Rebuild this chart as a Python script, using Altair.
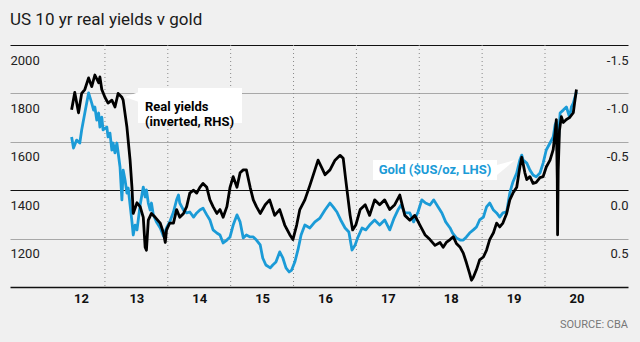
import altair as alt
import pandas as pd

# ---- data ----
gold_year = [2012.47, 2012.50, 2012.55, 2012.60, 2012.63, 2012.68, 2012.74, 2012.79, 2012.82, 2012.84,
             2012.87, 2012.90, 2012.92, 2012.95, 2012.97, 2013.03, 2013.05, 2013.08, 2013.11, 2013.13,
             2013.16, 2013.19, 2013.24, 2013.27, 2013.29, 2013.32, 2013.35, 2013.37, 2013.40, 2013.43,
             2013.45, 2013.48, 2013.51, 2013.56, 2013.61, 2013.64, 2013.66, 2013.69, 2013.72, 2013.74,
             2013.77, 2013.82, 2013.88, 2013.93, 2013.98, 2014.03, 2014.09, 2014.14, 2014.17, 2014.19,
             2014.25, 2014.30, 2014.35, 2014.41, 2014.46, 2014.51, 2014.56, 2014.62, 2014.67, 2014.72,
             2014.78, 2014.83, 2014.88, 2014.94, 2014.99, 2015.04, 2015.10, 2015.15, 2015.20, 2015.25,
             2015.31, 2015.36, 2015.41, 2015.47, 2015.51, 2015.56, 2015.63, 2015.67, 2015.72, 2015.78,
             2015.83, 2015.88, 2015.93, 2015.97, 2016.02, 2016.07, 2016.12, 2016.18, 2016.26, 2016.34,
             2016.42, 2016.50, 2016.58, 2016.63, 2016.69, 2016.75, 2016.82, 2016.88, 2016.93, 2016.98,
             2017.02, 2017.09, 2017.15, 2017.21, 2017.29, 2017.37, 2017.45, 2017.53, 2017.60, 2017.66,
             2017.71, 2017.77, 2017.85, 2017.91, 2017.98, 2018.04, 2018.10, 2018.17, 2018.23, 2018.30,
             2018.36, 2018.42, 2018.49, 2018.53, 2018.59, 2018.65, 2018.70, 2018.75, 2018.80, 2018.86,
             2018.91, 2018.96, 2019.02, 2019.07, 2019.12, 2019.18, 2019.23, 2019.28, 2019.33, 2019.39,
             2019.44, 2019.47, 2019.49, 2019.55, 2019.60, 2019.63, 2019.65, 2019.71, 2019.76, 2019.81,
             2019.86, 2019.92, 2019.97, 2020.02, 2020.08, 2020.13, 2020.16, 2020.18, 2020.21, 2020.24,
             2020.29, 2020.34, 2020.39, 2020.42, 2020.45, 2020.50]
gold_price = [1620, 1574, 1607, 1595, 1649, 1719, 1802, 1760, 1731, 1744,
              1690, 1719, 1661, 1702, 1649, 1661, 1620, 1636, 1566, 1595,
              1554, 1595, 1496, 1360, 1483, 1442, 1388, 1409, 1339, 1269,
              1215, 1256, 1236, 1339, 1413, 1372, 1401, 1347, 1318, 1347,
              1298, 1269, 1244, 1211, 1244, 1269, 1310, 1360, 1380, 1347,
              1318, 1306, 1310, 1289, 1306, 1318, 1326, 1298, 1277, 1236,
              1223, 1215, 1182, 1194, 1207, 1256, 1298, 1269, 1203, 1215,
              1207, 1207, 1194, 1174, 1120, 1091, 1079, 1091, 1103, 1145,
              1120, 1079, 1062, 1070, 1103, 1153, 1215, 1256, 1244, 1269,
              1285, 1318, 1347, 1331, 1310, 1277, 1244, 1227, 1153, 1174,
              1203, 1244, 1236, 1256, 1277, 1256, 1277, 1236, 1285, 1318,
              1339, 1306, 1306, 1269, 1310, 1360, 1347, 1339, 1360, 1331,
              1306, 1269, 1244, 1223, 1203, 1194, 1194, 1207, 1223, 1236,
              1248, 1277, 1289, 1331, 1347, 1318, 1306, 1289, 1306, 1310,
              1388, 1417, 1434, 1471, 1525, 1545, 1525, 1512, 1483, 1463,
              1455, 1471, 1512, 1566, 1595, 1620, 1669, 1682, 1587, 1719,
              1731, 1744, 1702, 1744, 1760, 1806]

ry_year = [2012.47, 2012.52, 2012.58, 2012.63, 2012.68, 2012.74, 2012.79, 2012.84, 2012.90, 2012.92,
           2012.95, 2013.00, 2013.05, 2013.11, 2013.16, 2013.21, 2013.27, 2013.29, 2013.35, 2013.40,
           2013.43, 2013.45, 2013.51, 2013.56, 2013.61, 2013.64, 2013.66, 2013.69, 2013.74, 2013.80,
           2013.88, 2013.93, 2013.96, 2013.98, 2014.03, 2014.09, 2014.14, 2014.19, 2014.25, 2014.30,
           2014.35, 2014.41, 2014.46, 2014.51, 2014.56, 2014.62, 2014.67, 2014.72, 2014.78, 2014.83,
           2014.88, 2014.94, 2014.99, 2015.04, 2015.10, 2015.15, 2015.20, 2015.25, 2015.31, 2015.36,
           2015.41, 2015.47, 2015.55, 2015.62, 2015.70, 2015.78, 2015.86, 2015.94, 2015.99, 2016.05,
           2016.10, 2016.18, 2016.26, 2016.34, 2016.39, 2016.45, 2016.50, 2016.58, 2016.66, 2016.74,
           2016.79, 2016.83, 2016.90, 2016.94, 2016.99, 2017.06, 2017.14, 2017.21, 2017.29, 2017.37,
           2017.45, 2017.53, 2017.61, 2017.69, 2017.77, 2017.85, 2017.93, 2018.01, 2018.09, 2018.17,
           2018.25, 2018.33, 2018.38, 2018.43, 2018.49, 2018.54, 2018.59, 2018.65, 2018.70, 2018.75,
           2018.80, 2018.83, 2018.86, 2018.91, 2018.96, 2019.02, 2019.07, 2019.12, 2019.18, 2019.23,
           2019.28, 2019.33, 2019.39, 2019.44, 2019.49, 2019.55, 2019.60, 2019.63, 2019.65, 2019.68,
           2019.71, 2019.76, 2019.81, 2019.86, 2019.92, 2019.97, 2020.02, 2020.08, 2020.13, 2020.16,
           2020.18, 2020.195, 2020.20, 2020.21, 2020.23, 2020.26, 2020.29, 2020.34, 2020.39, 2020.45,
           2020.47, 2020.50]
ry_value = [-0.83, -1.01, -0.80, -1.00, -1.04, -1.16, -1.07, -1.19, -1.11, -1.17,
            -1.04, -0.96, -0.90, -0.93, -0.86, -1.00, -0.96, -0.93, -0.65, -0.31,
            -0.03, 0.24, 0.13, 0.17, 0.28, 0.59, 0.62, 0.31, 0.24, 0.28,
            0.34, 0.44, 0.54, 0.41, 0.34, 0.34, 0.20, 0.28, 0.24, 0.17,
            0.03, 0.00, 0.03, -0.03, -0.07, -0.03, 0.10, 0.17, 0.24, 0.20,
            0.28, 0.17, -0.03, -0.14, -0.03, -0.18, -0.21, -0.21, -0.03, 0.10,
            0.17, 0.24, 0.15, 0.10, 0.26, 0.20, 0.36, 0.46, 0.51, 0.36,
            0.20, 0.10, -0.05, -0.21, -0.31, -0.23, -0.16, -0.21, -0.31, -0.36,
            -0.33, -0.11, 0.26, 0.41, 0.36, 0.20, 0.15, 0.26, 0.10, 0.15,
            0.10, 0.20, 0.15, 0.05, 0.26, 0.31, 0.26, 0.36, 0.46, 0.51,
            0.57, 0.54, 0.59, 0.54, 0.51, 0.48, 0.55, 0.59, 0.65, 0.75,
            0.86, 0.93, 0.90, 0.82, 0.72, 0.69, 0.62, 0.51, 0.44, 0.34,
            0.38, 0.34, 0.24, 0.10, 0.03, -0.03, -0.24, -0.34, -0.28, -0.18,
            -0.11, -0.14, -0.07, -0.08, -0.13, -0.14, -0.24, -0.31, -0.42, -0.59,
            -0.73, -0.11, 0.46, -0.21, -0.62, -0.76, -0.70, -0.73, -0.75, -0.80,
            -0.90, -1.04]

year_starts = [2013, 2014, 2015, 2016, 2017, 2018, 2019, 2020]
year_label_pos = [2012.62, 2013.5, 2014.5, 2015.5, 2016.5, 2017.5, 2018.5, 2019.5, 2020.5]
gold_ticks = [1200, 1400, 1600, 1800, 2000]
ry_ticks = [-1.5, -1.0, -0.5, 0.0, 0.5]
title_text = "US 10 yr real yields v gold"

BLUE = "#1b9bd7"
FONT = "Roboto"
W, H = 618, 242

gold_df = pd.DataFrame({"year": gold_year, "gold": gold_price})
ry_df = pd.DataFrame({"year": ry_year, "ry": ry_value})
edges_df = pd.DataFrame({"year": year_starts})

xscale = alt.Scale(domain=[2011.49, 2021.32], nice=False, zero=False)
xaxis = alt.Axis(values=year_label_pos, labelExpr="format(floor(datum.value) - 2000, 'd')",
                 title=None, grid=False, ticks=False, tickSize=0, domain=True,
                 domainColor="#111", domainWidth=1.5, labelFontWeight="bold",
                 labelFontSize=13, labelPadding=5, labelColor="#111", labelFont=FONT)
X = alt.X("year:Q", scale=xscale, axis=xaxis)

rules = alt.Chart(edges_df).mark_rule(color="#888", strokeDash=[1, 3], strokeWidth=1).encode(x=X)

gold_line = alt.Chart(gold_df).mark_line(color=BLUE, strokeWidth=2.8, strokeJoin="round").encode(
    x=X,
    y=alt.Y("gold:Q", scale=alt.Scale(domain=[1000, 2000], nice=False, zero=False),
            axis=alt.Axis(orient="left", values=gold_ticks, title=None, ticks=False, tickSize=0,
                          domain=False, grid=True,
                          gridColor={"condition": {"test": "datum.value == 1400 || datum.value == 2000",
                                                   "value": "#111"}, "value": "#a8a8a8"},
                          gridWidth=1, labelAlign="left", labelBaseline="middle",
                          labelPadding=0, labelOffset=15, labelFontSize=13, labelColor="#222",
                          labelFont=FONT, format="d"))
)

ry_line = alt.Chart(ry_df).mark_line(color="#000", strokeWidth=2.8, strokeJoin="round").encode(
    x=X,
    y=alt.Y("ry:Q", scale=alt.Scale(domain=[-1.5, 1.0], reverse=True, nice=False, zero=False),
            axis=alt.Axis(orient="right", values=ry_ticks, title=None, ticks=False, tickSize=0,
                          domain=False, grid=False, labelAlign="right", labelBaseline="middle",
                          labelPadding=0, labelOffset=15, labelFontSize=13, labelColor="#222",
                          labelFont=FONT,
                          labelExpr="replace(format(datum.value, '.1f'), '\u2212', '-')"))
)

one = alt.Data(values=[{"a": 1}])

ry_box = alt.Chart(one).mark_rect(color="white").encode(
    x=alt.value(128), x2=alt.value(232), y=alt.value(43), y2=alt.value(78))
ry_ptr = alt.Chart(one).mark_point(
    shape="M 0.7 -0.5 L -0.7 0 L 0.7 0.5 Z", filled=True, color="white", opacity=1, size=400, strokeWidth=0
).encode(x=alt.value(122), y=alt.value(52))
ry_text = alt.Chart(one).mark_text(align="left", baseline="middle", fontSize=13, fontWeight="bold",
                                   font=FONT, color="#000", lineHeight=15).encode(
    x=alt.value(135), y=alt.value(61.5), text=alt.value(["Real yields", "(inverted, RHS)"]))

gold_box = alt.Chart(one).mark_rect(color="white").encode(
    x=alt.value(363), x2=alt.value(487), y=alt.value(115), y2=alt.value(135))
gold_ptr = alt.Chart(one).mark_point(
    shape="M -0.9 -0.2 L 0.9 -0.7 L -0.9 0.8 Z", filled=True, color="white", opacity=1, size=400, strokeWidth=0
).encode(x=alt.value(496), y=alt.value(122))
gold_text = alt.Chart(one).mark_text(align="center", baseline="middle", fontSize=13, fontWeight="bold",
                                     font=FONT, color=BLUE).encode(
    x=alt.value(425), y=alt.value(125), text=alt.value("Gold ($US/oz, LHS)"))

title = alt.Chart(one).mark_text(align="left", baseline="alphabetic", fontSize=17, font=FONT,
                                 color="#1a1a1a").encode(
    x=alt.value(0), y=alt.value(-20), text=alt.value(title_text))

source = alt.Chart(one).mark_text(align="right", baseline="middle", fontSize=11, font=FONT,
                                  color="#777").encode(
    x=alt.value(618), y=alt.value(280), text=alt.value("SOURCE: CBA"))

chart = alt.layer(
    rules, gold_line, ry_line, ry_box, ry_ptr, ry_text, gold_box, gold_ptr, gold_text, title, source
).resolve_scale(y="independent").properties(
    width=W, height=H,
    autosize=alt.AutoSizeParams(type="none"),
    padding={"left": 10, "top": 45, "right": 12, "bottom": 55},
    background="#f0f0f0",
).configure_view(stroke=None)

chart.save("out.html", embed_options={"renderer": "svg", "actions": False})
